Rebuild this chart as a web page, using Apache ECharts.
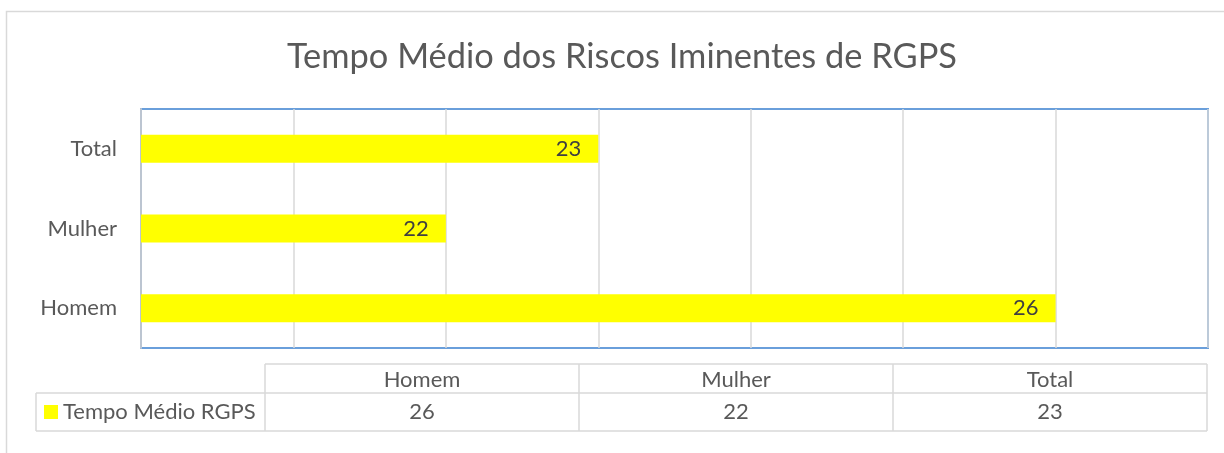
<!DOCTYPE html>
<html>
<head>
<meta charset="utf-8">
<script src="https://cdn.jsdelivr.net/npm/echarts@6/dist/echarts.min.js"></script>
<style>
  html, body { margin: 0; padding: 0; background: #ffffff; }
  #chart { width: 1224px; height: 453px; }
</style>
</head>
<body>
<div id="chart"></div>
<script>
// Chart data
const categories = ['Homem', 'Mulher', 'Total'];
const seriesName = 'Tempo Médio RGPS';
const values = [26, 22, 23];
const axisMin = 20;
const axisMax = 27;
const axisStep = 1;
const titleText = 'Tempo Médio dos Riscos Iminentes de RGPS';

const FONT = 'Lato, "Open Sans", sans-serif';
const TEXT = '#595959';
const LINE = '#d9d9d9';
const BAR = '#ffff00';

// Data table drawn below the plot area
const tbl = { left: 36, colStart: 265, right: 1207, top: 364, mid: 393, bottom: 431 };
const colW = (tbl.right - tbl.colStart) / categories.length;

function hLine(x1, x2, y) {
  return { type: 'line', silent: true, shape: { x1, y1: y, x2, y2: y },
           style: { stroke: LINE, lineWidth: 1.5 } };
}
function vLine(x, y1, y2) {
  return { type: 'line', silent: true, shape: { x1: x, y1, x2: x, y2 },
           style: { stroke: LINE, lineWidth: 1.5 } };
}

const tableGraphics = [];
// outer frame of the chart area
tableGraphics.push({ type: 'rect', silent: true, shape: { x: 6.5, y: 11.5, width: 1400, height: 600 },
  style: { fill: 'none', stroke: LINE, lineWidth: 1.5 } });
tableGraphics.push(hLine(tbl.colStart, tbl.right, tbl.top));
tableGraphics.push(hLine(tbl.left, tbl.right, tbl.mid));
tableGraphics.push(hLine(tbl.left, tbl.right, tbl.bottom));
tableGraphics.push(vLine(tbl.left, tbl.mid, tbl.bottom));
for (let i = 0; i <= categories.length; i++) {
  tableGraphics.push(vLine(tbl.colStart + i * colW, tbl.top, tbl.bottom));
}
categories.forEach((c, i) => {
  const cx = tbl.colStart + (i + 0.5) * colW;
  tableGraphics.push({ type: 'text', silent: true, x: cx, y: (tbl.top + tbl.mid) / 2 + 1,
    style: { text: c, fill: TEXT, font: '22px ' + FONT, align: 'center', verticalAlign: 'middle' } });
  tableGraphics.push({ type: 'text', silent: true, x: cx, y: (tbl.mid + tbl.bottom) / 2,
    style: { text: String(values[i]), fill: TEXT, font: '22px ' + FONT, align: 'center', verticalAlign: 'middle' } });
});
// legend key and series name in the first column
tableGraphics.push({ type: 'rect', silent: true, shape: { x: 44, y: 405, width: 14, height: 14 },
  style: { fill: BAR } });
tableGraphics.push({ type: 'text', silent: true, x: 63, y: (tbl.mid + tbl.bottom) / 2,
  style: { text: seriesName, fill: TEXT, font: '22px ' + FONT, align: 'left', verticalAlign: 'middle' } });
// chart title
tableGraphics.push({ type: 'text', silent: true, x: 622, y: 57,
  style: { text: titleText, fill: TEXT, font: '34.4px ' + FONT, align: 'center', verticalAlign: 'middle' } });

const chart = echarts.init(document.getElementById('chart'), null, { renderer: 'canvas' });
chart.setOption({
  backgroundColor: '#ffffff',
  animation: false,
  grid: {
    left: 141, right: 16, top: 109, bottom: 105,
    show: true, borderColor: '#6a9fdb', borderWidth: 2, backgroundColor: 'transparent',
    containLabel: false
  },
  xAxis: {
    type: 'value', min: axisMin, max: axisMax, interval: axisStep, startValue: axisMin,
    axisLabel: { show: false }, axisTick: { show: false }, axisLine: { show: false },
    splitLine: { show: true, lineStyle: { color: LINE, width: 1.5 } }
  },
  yAxis: {
    type: 'category', data: categories,
    axisTick: { show: false },
    axisLine: { show: true, lineStyle: { color: '#bcc5d1', width: 2 } },
    axisLabel: { color: TEXT, fontFamily: FONT, fontSize: 22, margin: 24 },
    splitLine: { show: false }
  },
  series: [{
    name: seriesName, type: 'bar', data: values, barWidth: 28,
    itemStyle: { color: BAR },
    label: { show: true, position: 'insideRight', distance: 17, color: '#404040',
             fontFamily: FONT, fontSize: 22 }
  }],
  graphic: tableGraphics
});
</script>
</body>
</html>
